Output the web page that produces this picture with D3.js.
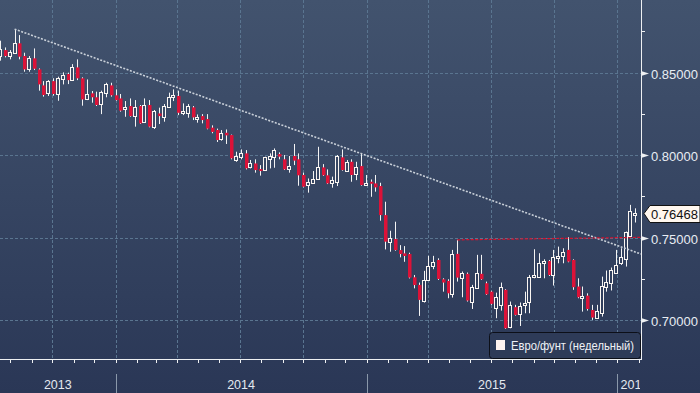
<!DOCTYPE html>
<html><head><meta charset="utf-8">
<script src="https://cdn.jsdelivr.net/npm/d3@7"></script>
<style>html,body{margin:0;padding:0;background:#2c3a57;}svg{display:block;font-family:"Liberation Sans",Arial,sans-serif;}</style>
</head><body><svg id="c" width="700" height="393"></svg>
<script>
// Weekly EUR/GBP candles, first week starting 2013-07-17
const startDate = "2013-07-17";
const open = [0.8601,0.8637,0.8601,0.8621,0.8678,0.8601,0.8524,0.8587,0.8520,0.8423,0.8375,0.8449,0.8369,0.8459,0.8492,0.8455,0.8532,0.8466,0.8342,0.8375,0.8351,0.8308,0.8375,0.8423,0.8363,0.8344,0.8278,0.8298,0.8239,0.8298,0.8203,0.8304,0.8173,0.8253,0.8229,0.8294,0.8355,0.8359,0.8257,0.8257,0.8290,0.8219,0.8237,0.8219,0.8167,0.8153,
0.8096,0.8136,0.8122,0.7971,0.7987,0.8011,0.7926,0.7950,0.7916,0.7910,0.7979,0.7987,0.8007,0.7975,0.7914,0.7995,0.7975,0.7880,0.7817,0.7833,0.7857,0.7926,0.7878,0.7829,0.7839,0.7987,0.7906,0.7960,0.7884,0.7934,0.7823,0.7839,0.7829,0.7813,0.7637,0.7476,0.7492,0.7425,0.7405,0.7401,0.7260,
0.7214,0.7119,0.7244,0.7331,0.7365,0.7248,0.7238,0.7159,0.7402,0.7254,0.7281,0.7113,0.7194,0.7281,0.7224,0.7173,0.7072,0.7093,0.7184,0.6961,0.7079,0.7038,0.7093,0.7113,0.7260,0.7264,0.7349,0.7359,0.7274,0.7382,0.7390,0.7426,0.7365,0.7204,0.7139,0.7149,0.7062,0.7016,0.7046,0.7200,0.7224,0.7289,0.7349,0.7369,0.7511,0.7640];
const high = [0.8694,0.8653,0.8637,0.8764,0.8728,0.8621,0.8601,0.8647,0.8526,0.8449,0.8455,0.8466,0.8476,0.8502,0.8500,0.8552,0.8581,0.8472,0.8459,0.8389,0.8385,0.8391,0.8439,0.8439,0.8399,0.8371,0.8328,0.8344,0.8334,0.8304,0.8344,0.8334,0.8274,0.8288,0.8310,0.8379,0.8399,0.8391,0.8314,0.8310,0.8298,0.8247,0.8249,0.8249,0.8181,0.8161,
0.8152,0.8156,0.8125,0.8021,0.8035,0.8031,0.7971,0.7975,0.7940,0.7991,0.8011,0.8041,0.8017,0.8001,0.7995,0.8068,0.8011,0.7894,0.7859,0.7904,0.8051,0.7946,0.7914,0.7870,0.8001,0.8035,0.7971,0.7975,0.7960,0.8011,0.7880,0.7853,0.7880,0.7833,0.7718,0.7542,0.7597,0.7455,0.7449,0.7409,0.7274,
0.7228,0.7299,0.7390,0.7390,0.7375,0.7254,0.7248,0.7426,0.7487,0.7295,0.7289,0.7214,0.7396,0.7396,0.7234,0.7178,0.7167,0.7228,0.7188,0.7113,0.7093,0.7107,0.7173,0.7274,0.7430,0.7406,0.7369,0.7365,0.7426,0.7446,0.7436,0.7503,0.7369,0.7254,0.7204,0.7163,0.7093,0.7093,0.7264,0.7301,0.7319,0.7426,0.7436,0.7537,0.7699,0.7678];
const low = [0.8573,0.8593,0.8581,0.8617,0.8581,0.8506,0.8506,0.8516,0.8391,0.8355,0.8359,0.8361,0.8330,0.8429,0.8431,0.8451,0.8455,0.8300,0.8334,0.8318,0.8298,0.8249,0.8351,0.8355,0.8330,0.8264,0.8233,0.8233,0.8173,0.8189,0.8199,0.8169,0.8159,0.8189,0.8203,0.8288,0.8328,0.8243,0.8243,0.8227,0.8213,0.8197,0.8193,0.8157,0.8133,0.8080,
0.8088,0.8068,0.7975,0.7960,0.7975,0.7914,0.7920,0.7894,0.7876,0.7906,0.7920,0.7924,0.7975,0.7910,0.7894,0.7940,0.7815,0.7805,0.7773,0.7829,0.7853,0.7874,0.7825,0.7803,0.7813,0.7906,0.7900,0.7839,0.7849,0.7815,0.7817,0.7748,0.7779,0.7603,0.7429,0.7415,0.7421,0.7381,0.7354,0.7253,0.7193,
0.7026,0.7107,0.7240,0.7309,0.7244,0.7173,0.7133,0.7137,0.7234,0.7139,0.7113,0.7068,0.7190,0.7244,0.7153,0.7093,0.7012,0.7058,0.6947,0.6951,0.7028,0.6965,0.7042,0.7042,0.7254,0.7258,0.7254,0.7268,0.7210,0.7345,0.7345,0.7351,0.7184,0.7133,0.7052,0.7058,0.7002,0.7008,0.7022,0.7173,0.7180,0.7285,0.7335,0.7325,0.7503,0.7592];
const close = [0.8641,0.8601,0.8623,0.8678,0.8597,0.8520,0.8587,0.8524,0.8429,0.8365,0.8449,0.8371,0.8466,0.8486,0.8455,0.8532,0.8466,0.8338,0.8369,0.8351,0.8304,0.8385,0.8431,0.8363,0.8334,0.8270,0.8290,0.8237,0.8294,0.8193,0.8306,0.8173,0.8268,0.8237,0.8298,0.8351,0.8363,0.8257,0.8270,0.8298,0.8229,0.8231,0.8213,0.8161,0.8141,0.8092,
0.8132,0.8120,0.7981,0.7995,0.8015,0.7920,0.7954,0.7910,0.7906,0.7987,0.7997,0.8031,0.7991,0.7914,0.7934,0.7967,0.7878,0.7809,0.7837,0.7853,0.7926,0.7878,0.7829,0.7849,0.7995,0.7910,0.7960,0.7880,0.7926,0.7819,0.7833,0.7829,0.7805,0.7637,0.7476,0.7500,0.7425,0.7401,0.7389,0.7258,0.7213,
0.7123,0.7244,0.7329,0.7355,0.7250,0.7228,0.7163,0.7402,0.7258,0.7285,0.7119,0.7200,0.7285,0.7248,0.7157,0.7099,0.7143,0.7200,0.6951,0.7093,0.7032,0.7087,0.7107,0.7260,0.7272,0.7349,0.7357,0.7274,0.7386,0.7390,0.7416,0.7355,0.7200,0.7139,0.7149,0.7068,0.7016,0.7056,0.7208,0.7230,0.7305,0.7335,0.7382,0.7533,0.7662,0.76468];
const yMajorTicks = [0.70, 0.75, 0.80, 0.85];
const yMinorTicks = [0.725, 0.775, 0.825, 0.875];
const yearLabels = ["2013", "2014", "2015", "2016"];
const trendIdx = 3, trendEndValue = 0.7401;       // resistance trend line
const redIdx = 95, redEndValue = 0.7502;          // horizontal level
const legendLabel = "Евро/фунт (недельный)";

const svg = d3.select("#c");
const W = 700, H = 393, plotR = 641, plotB = 359;
const defs = svg.append("defs");
const grad = defs.append("linearGradient").attr("id","bg").attr("gradientUnits","userSpaceOnUse")
  .attr("x1",0).attr("y1",0).attr("x2",0).attr("y2",H);
grad.append("stop").attr("offset","0%").attr("stop-color","#42536e");
grad.append("stop").attr("offset","100%").attr("stop-color","#2a3756");
svg.append("rect").attr("width",W).attr("height",H).attr("fill","url(#bg)");
defs.append("clipPath").attr("id","clip").append("rect").attr("width",plotR).attr("height",plotB);

const t0 = new Date(Date.UTC(2013,6,16,19)), t1 = new Date(Date.UTC(2016,1,4,7));
const x = d3.scaleUtc().domain([t0,t1]).range([0,plotR]);
const y = d3.scaleLinear().domain([0.67648, 0.89406]).range([plotB,0]);
const s0 = new Date(startDate + "T00:00:00Z");
const data = close.map((c,i)=>({d:d3.utcDay.offset(s0,7*i),o:open[i],h:high[i],l:low[i],c:c}));

// grid
const grid = svg.append("g").attr("stroke","#5a7590").attr("stroke-width",1).attr("stroke-dasharray","3,2");
x.ticks(d3.utcMonth.every(3)).forEach(t=>{
  const xx = Math.round(x(t))+0.5;
  grid.append("line").attr("x1",xx).attr("x2",xx).attr("y1",0).attr("y2",plotB);
});
yMajorTicks.forEach(v=>{
  const yy = Math.round(y(v))+0.5;
  grid.append("line").attr("x1",0).attr("x2",plotR).attr("y1",yy).attr("y2",yy);
});

const plot = svg.append("g").attr("clip-path","url(#clip)");
// candles
const g = plot.append("g");
data.forEach(d=>{
  const c = Math.round(x(d.d));
  g.append("line").attr("x1",c+0.5).attr("x2",c+0.5).attr("y1",y(d.h)).attr("y2",y(d.l)).attr("stroke","#f4f4f4").attr("stroke-width",1);
  const top = y(Math.max(d.o,d.c)), bot = y(Math.min(d.o,d.c));
  if (d.c >= d.o) {
    const t = Math.round(top)+0.5, b = Math.max(Math.round(bot)+0.5, t+2);
    g.append("rect").attr("x",c-1.5).attr("y",t).attr("width",3).attr("height",b-t)
      .attr("fill","url(#bg)").attr("stroke","#fbf6f2").attr("stroke-width",1);
  } else {
    g.append("rect").attr("x",c-1).attr("y",top).attr("width",3.5).attr("height",Math.max(bot-top,2))
      .attr("fill","#dc1238");
  }
});
// trend line
const td = data[trendIdx];
plot.append("line").attr("x1",x(td.d)).attr("y1",y(td.h)).attr("x2",plotR).attr("y2",y(trendEndValue))
  .attr("stroke","#c9d0d9").attr("stroke-width",1.6).attr("stroke-dasharray","2,1.5");
const rd = data[redIdx];
plot.append("line").attr("x1",x(rd.d)).attr("y1",y(rd.h)).attr("x2",plotR).attr("y2",y(redEndValue))
  .attr("stroke","#d8102c").attr("stroke-width",1.2).attr("stroke-dasharray","3,1.5");

// axes lines
svg.append("line").attr("x1",plotR+0.5).attr("x2",plotR+0.5).attr("y1",0).attr("y2",plotB+1).attr("stroke","#eef0f2");
svg.append("line").attr("x1",0).attr("x2",plotR+1).attr("y1",plotB+0.5).attr("y2",plotB+0.5).attr("stroke","#eef0f2");
// month ticks
x.ticks(d3.utcMonth.every(1)).forEach(t=>{
  const xx = Math.round(x(t))+0.5;
  svg.append("line").attr("x1",xx).attr("x2",xx).attr("y1",plotB).attr("y2",plotB+4).attr("stroke","#eef0f2");
});
// years
const yearStarts = x.ticks(d3.utcYear.every(1));
yearStarts.forEach(t=>{
  const xx = Math.round(x(t))+0.5;
  svg.append("line").attr("x1",xx).attr("x2",xx).attr("y1",374).attr("y2",H).attr("stroke","#8a98aa");
});
defs.append("clipPath").attr("id","yclip").append("rect").attr("width",plotR-1).attr("height",H);
const yg = svg.append("g").attr("clip-path","url(#yclip)");
yearLabels.forEach(lbl=>{
  const yr = +lbl;
  const a = Math.max(x(new Date(Date.UTC(yr,0,1))),0), b = Math.min(x(new Date(Date.UTC(yr+1,0,1))),plotR);
  const mid = yr===2016 ? a+17 : (a+b)/2;
  yg.append("text").attr("x",mid).attr("y",389).attr("text-anchor","middle").attr("font-size",12.5)
    .attr("fill","#e4e9f0").text(lbl);
});
// y ticks
yMinorTicks.forEach(v=>{
  const yy = Math.round(y(v))+0.5;
  svg.append("line").attr("x1",plotR).attr("x2",plotR+4).attr("y1",yy).attr("y2",yy).attr("stroke","#eef0f2");
});
yMajorTicks.forEach(v=>{
  const yy = Math.round(y(v))+0.5;
  svg.append("path").attr("d",`M${plotR},${yy-2.5}L${plotR+8},${yy}L${plotR},${yy+2.5}Z`).attr("fill","#eef0f2");
  svg.append("text").attr("x",651).attr("y",yy+5).attr("font-size",13).attr("fill","#e8edf3").text(v.toFixed(5));
});
// last value label
const lv = close[close.length-1], ly = Math.round(y(lv))+0.5;
svg.append("path").attr("d",`M644,${ly}L650,${ly-8}L700,${ly-8}L700,${ly+9}L650,${ly+9}Z`)
  .attr("fill","#fff7ef").attr("stroke","#111").attr("stroke-width",1);
svg.append("text").attr("x",651).attr("y",ly+5).attr("font-size",13).attr("fill","#111").text(lv.toFixed(5));

// legend
svg.append("rect").attr("x",489.5).attr("y",332.5).attr("width",151).attr("height",26).attr("rx",3)
  .attr("fill","#2e3b58").attr("stroke","#0c0f18").attr("stroke-width",1);
svg.append("rect").attr("x",496).attr("y",340).attr("width",9).attr("height",10).attr("fill","#fff3ee");
svg.append("text").attr("x",511).attr("y",350).attr("font-size",12).attr("fill","#eef1f6")
  .attr("textLength",123).attr("lengthAdjust","spacingAndGlyphs").text(legendLabel);
</script></body></html>
